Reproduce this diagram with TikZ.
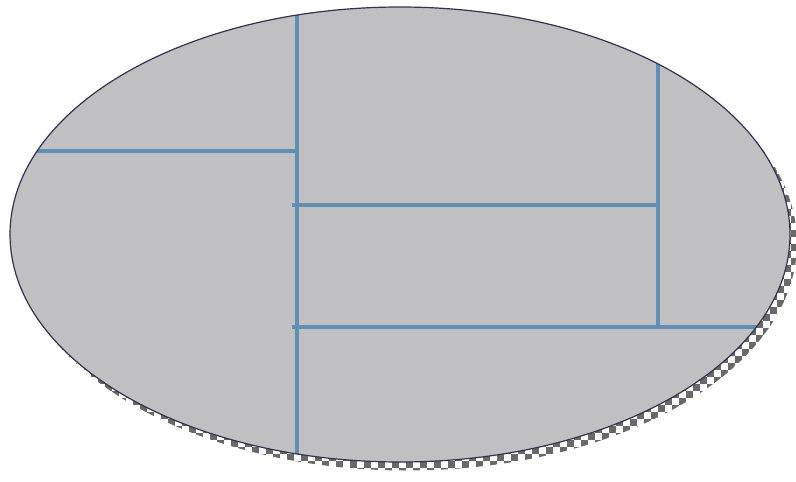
\documentclass[tikz,border=0pt]{standalone}
\usetikzlibrary{patterns.meta}
\definecolor{fillgray}{RGB}{192,192,194}
\definecolor{rimcol}{RGB}{50,50,80}
\definecolor{wallblue}{RGB}{98,142,180}
\definecolor{shadowgray}{RGB}{105,105,105}
\tikzdeclarepattern{
  name=bigcheck,
  type=uncolored,
  bottom left={(-.1pt,-.1pt)},
  top right={(14.1pt,14.1pt)},
  tile size={(14pt,14pt)},
  code={
    \fill (0pt,0pt) rectangle (7pt,7pt);
    \fill (7pt,7pt) rectangle (14pt,14pt);
  }
}
\tikzset{
  wall/.style={draw=wallblue, line width=3.5pt},
  rim/.style={draw=rimcol, line width=1.2pt},
}
\begin{document}
\begin{tikzpicture}[x=1pt,y=-1pt]
\useasboundingbox (0,0) rectangle (796,482);
% shadow
\fill[pattern={bigcheck}, pattern color=shadowgray] (407,243) ellipse [x radius=390, y radius=227.5];
% ellipse body
\fill[fillgray] (400,234.5) ellipse [x radius=390, y radius=227.5];
\begin{scope}
\clip (400,234.5) ellipse [x radius=390, y radius=227.5];
\coordinate (v1t) at (297,0);
\coordinate (v1b) at (297,455);
\coordinate (h1l) at (0,151);
\coordinate (h1r) at (297,151);
\coordinate (h2l) at (292,205);
\coordinate (h2r) at (658,205);
\coordinate (v2t) at (658,0);
\coordinate (v2b) at (658,327);
\coordinate (h3l) at (292,327);
\coordinate (h3r) at (796,327);
\draw[wall] (v1t) -- (v1b);
\draw[wall] (h1l) -- (h1r);
\draw[wall] (h2l) -- (h2r);
\draw[wall] (v2t) -- (v2b);
\draw[wall] (h3l) -- (h3r);
\end{scope}
\draw[rim] (400,234.5) ellipse [x radius=390, y radius=227.5];
\end{tikzpicture}
\end{document}
